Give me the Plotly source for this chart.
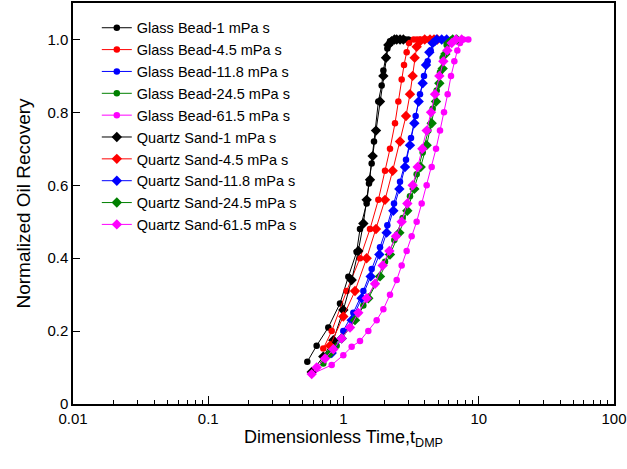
import plotly.graph_objects as go

# ---- data ----
gb1_x = [0.540, 0.633, 0.772, 0.942, 1.086, 1.251, 1.324, 1.483, 1.543, 1.615, 1.681, 1.810, 1.915, 1.971, 2.062, 2.110, 2.207, 2.300, 2.403, 2.500, 2.617, 2.730, 2.850, 3.015]
gb1_y = [0.116, 0.16, 0.21, 0.276, 0.349, 0.417, 0.48, 0.55, 0.605, 0.66, 0.72, 0.83, 0.874, 0.915, 0.95, 0.975, 0.995, 0.998, 1.0, 1.0, 1.0, 1.0, 1.0, 1.0]

qs1_x = [0.582, 0.709, 0.841, 0.997, 1.149, 1.287, 1.402, 1.483, 1.570, 1.643, 1.739, 1.862, 1.971, 2.062, 2.146, 2.271, 2.380, 2.473, 2.620, 2.770]
qs1_y = [0.088, 0.13, 0.175, 0.258, 0.34, 0.42, 0.495, 0.56, 0.615, 0.68, 0.75, 0.83, 0.90, 0.95, 0.985, 0.995, 1.0, 1.0, 1.0, 1.0]

gb45_x = [0.709, 0.818, 1.055, 1.324, 1.570, 1.810, 2.027, 2.207, 2.403, 2.544, 2.692, 2.802, 2.931, 3.050, 3.302, 3.500, 3.699, 3.920, 4.143, 4.400, 4.643]
gb45_y = [0.152, 0.2, 0.31, 0.40, 0.48, 0.56, 0.64, 0.70, 0.77, 0.83, 0.89, 0.93, 0.965, 0.99, 1.0, 1.0, 1.0, 1.0, 1.0, 1.0, 1.0]

qs45_x = [0.795, 0.997, 1.216, 1.483, 1.739, 2.027, 2.309, 2.617, 2.898, 3.101, 3.246, 3.359, 3.475, 3.678, 3.983, 4.360, 4.669, 4.942]
qs45_y = [0.16, 0.24, 0.31, 0.40, 0.48, 0.56, 0.64, 0.72, 0.79, 0.85, 0.90, 0.95, 0.98, 0.995, 1.0, 1.0, 1.0, 1.0]

gb118_x = [0.851, 0.997, 1.182, 1.402, 1.615, 1.862, 2.110, 2.362, 2.617, 2.898, 3.155, 3.416, 3.678, 3.937, 4.191, 4.411, 4.616, 4.942, 5.319, 5.727]
gb118_y = [0.157, 0.2, 0.25, 0.31, 0.37, 0.43, 0.49, 0.55, 0.61, 0.67, 0.73, 0.79, 0.85, 0.90, 0.94, 0.97, 0.99, 1.0, 1.0, 1.0]

qs118_x = [0.818, 0.969, 1.149, 1.362, 1.588, 1.841, 2.085, 2.336, 2.588, 2.850, 3.101, 3.340, 3.596, 3.849, 4.074, 4.312, 4.564, 4.886, 5.319, 5.792]
qs118_y = [0.14, 0.18, 0.23, 0.29, 0.35, 0.41, 0.47, 0.53, 0.59, 0.65, 0.71, 0.77, 0.83, 0.88, 0.93, 0.965, 0.99, 1.0, 1.0, 1.0]

gb245_x = [0.709, 0.890, 1.117, 1.402, 1.710, 2.027, 2.376, 2.738, 3.101, 3.475, 3.849, 4.239, 4.564, 4.886, 5.170, 5.410, 5.792, 6.307, 6.790]
gb245_y = [0.111, 0.16, 0.21, 0.27, 0.33, 0.39, 0.45, 0.51, 0.57, 0.63, 0.69, 0.75, 0.81, 0.86, 0.91, 0.95, 0.985, 1.0, 1.0]

qs245_x = [0.795, 0.969, 1.216, 1.526, 1.862, 2.207, 2.588, 2.964, 3.340, 3.720, 4.120, 4.487, 4.831, 5.112, 5.410, 5.662, 5.959, 6.415, 6.868]
qs245_y = [0.139, 0.18, 0.23, 0.29, 0.35, 0.41, 0.47, 0.53, 0.59, 0.65, 0.71, 0.77, 0.83, 0.88, 0.92, 0.96, 0.99, 1.0, 1.0]

gb615_x = [0.582, 0.818, 0.997, 1.149, 1.324, 1.526, 1.759, 1.971, 2.207, 2.473, 2.692, 2.931, 3.192, 3.475, 3.784, 4.120, 4.487, 4.831, 5.170, 5.535, 5.892, 6.236, 6.600, 6.946, 7.267, 7.691, 8.375]
gb615_y = [0.082, 0.107, 0.134, 0.157, 0.173, 0.20, 0.23, 0.26, 0.30, 0.34, 0.38, 0.42, 0.46, 0.50, 0.55, 0.60, 0.65, 0.70, 0.75, 0.80, 0.85, 0.90, 0.94, 0.97, 0.99, 1.0, 1.0]

qs615_x = [0.582, 0.633, 0.730, 0.841, 0.969, 1.117, 1.287, 1.483, 1.710, 1.948, 2.183, 2.444, 2.692, 2.964, 3.246, 3.535, 3.827, 4.120, 4.436, 4.750, 5.112, 5.473, 5.858, 6.307, 6.790, 7.475]
qs615_y = [0.082, 0.10, 0.125, 0.15, 0.18, 0.21, 0.25, 0.29, 0.33, 0.38, 0.42, 0.46, 0.50, 0.55, 0.60, 0.65, 0.70, 0.75, 0.80, 0.85, 0.90, 0.94, 0.97, 0.99, 1.0, 1.0]

names = ["Glass Bead-1 mPa s", "Glass Bead-4.5 mPa s", "Glass Bead-11.8 mPa s",
         "Glass Bead-24.5 mPa s", "Glass Bead-61.5 mPa s",
         "Quartz Sand-1 mPa s", "Quartz Sand-4.5 mPa s", "Quartz Sand-11.8 mPa s",
         "Quartz Sand-24.5 mPa s", "Quartz Sand-61.5 mPa s"]
xs = [gb1_x, gb45_x, gb118_x, gb245_x, gb615_x, qs1_x, qs45_x, qs118_x, qs245_x, qs615_x]
ys = [gb1_y, gb45_y, gb118_y, gb245_y, gb615_y, qs1_y, qs45_y, qs118_y, qs245_y, qs615_y]
colors = ["#000000", "#FF0000", "#0000FF", "#008000", "#FF00FF"] * 2
symbols = ["circle"] * 5 + ["diamond"] * 5

x_ticks = [0.01, 0.1, 1, 10, 100]
x_ticktext = ["0.01", "0.1", "1", "10", "100"]
x_minor = [m * d for d in (0.01, 0.1, 1, 10) for m in range(2, 10)]
y_ticks = [0, 0.2, 0.4, 0.6, 0.8, 1.0]
y_ticktext = ["0", "0.2", "0.4", "0.6", "0.8", "1.0"]

fig = go.Figure()
for n, x, y, c, s in zip(names, xs, ys, colors, symbols):
    fig.add_trace(go.Scatter(
        x=x, y=y, name=n, mode="lines+markers",
        line=dict(color=c, width=1),
        marker=dict(color=c, symbol=s, size=6.5 if s == "circle" else 8, line=dict(width=0)),
    ))

font = "Arial, Liberation Sans, sans-serif"
fig.update_layout(
    width=627, height=469,
    margin=dict(l=73, r=13, t=3, b=65),
    paper_bgcolor="white", plot_bgcolor="white",
    font=dict(family=font, size=15, color="#000000"),
    showlegend=True,
    legend=dict(x=0.044, y=0.978, xanchor="left", yanchor="top",
                bgcolor="rgba(0,0,0,0)", borderwidth=0,
                font=dict(size=14.5), tracegroupgap=0, itemwidth=30),
)
fig.update_xaxes(
    type="log", range=[-2, 2], automargin=False,
    tickvals=x_ticks, ticktext=x_ticktext,
    ticks="inside", ticklen=8, tickwidth=1, tickcolor="#000",
    minor=dict(tickvals=x_minor, ticks="inside", ticklen=4, tickwidth=1,
               tickcolor="#000", showgrid=False),
    showline=True, linecolor="#000", linewidth=1.5, mirror=True,
    showgrid=False, zeroline=False,
    title=dict(text="Dimensionless Time,t<sub>DMP</sub>", font=dict(size=18), standoff=4),
    tickfont=dict(size=15),
)
fig.update_yaxes(
    range=[0, 1.1], automargin=False,
    tickvals=y_ticks, ticktext=y_ticktext,
    ticks="inside", ticklen=7, tickwidth=1, tickcolor="#000",
    showline=True, linecolor="#000", linewidth=1.5, mirror=True,
    showgrid=False, zeroline=False,
    title=dict(text="Normalized Oil Recovery", font=dict(size=19), standoff=12),
    tickfont=dict(size=15),
)

fig.write_html("out.html", config={"displayModeBar": False},
               post_script="document.body.style.margin='0';")
